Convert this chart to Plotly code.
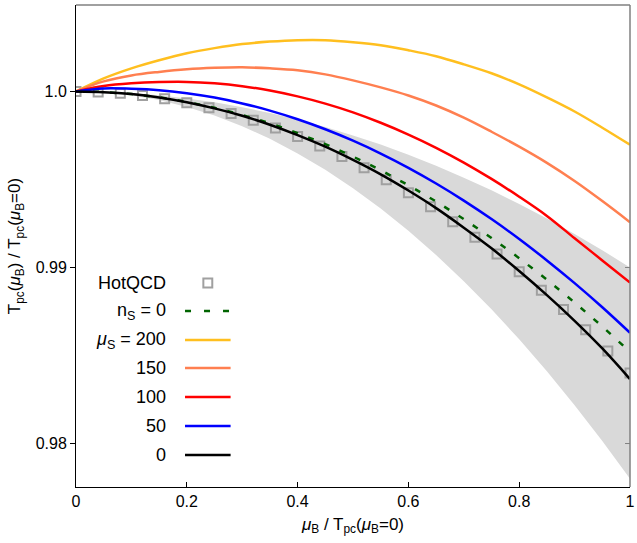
import plotly.graph_objects as go

# ---------------- data ----------------
mu_grid = [0.0, 0.05, 0.1, 0.15, 0.2, 0.25, 0.3, 0.35, 0.4, 0.45, 0.5,
           0.55, 0.6, 0.65, 0.7, 0.75, 0.8, 0.85, 0.9, 0.95, 1.0]

T_muS200 = [1.0, 1.00074, 1.00131, 1.00177, 1.00217, 1.00246, 1.00269, 1.00283, 1.00291, 1.00291, 1.00280,
            1.00263, 1.00234, 1.00200, 1.00154, 1.00103, 1.00040, 0.99966, 0.99886, 0.99794, 0.99697]
T_muS150 = [1.0, 1.00057, 1.00091, 1.00111, 1.00126, 1.00134, 1.00137, 1.00131, 1.00120, 1.00097, 1.00063,
            1.00023, 0.99977, 0.99920, 0.99851, 0.99771, 0.99686, 0.99594, 0.99491, 0.99377, 0.99257]
T_muS100 = [1.0, 1.00031, 1.00046, 1.00053, 1.00054, 1.00046, 1.00030, 1.00005, 0.99972, 0.99931, 0.99881,
            0.99822, 0.99755, 0.99680, 0.99596, 0.99503, 0.99402, 0.99293, 0.99166, 0.99040, 0.98914]
T_muS50 = [1.0, 1.00017, 1.00015, 1.00007, 0.99990, 0.99965, 0.99932, 0.99891, 0.99842, 0.99785, 0.99720,
           0.99647, 0.99566, 0.99477, 0.99380, 0.99275, 0.99162, 0.99040, 0.98911, 0.98774, 0.98629]
T_muS0 = [1.0, 0.99996, 0.99985, 0.99966, 0.99939, 0.99904, 0.99862, 0.99811, 0.99752, 0.99686, 0.99611,
          0.99529, 0.99437, 0.99337, 0.99226, 0.99109, 0.98980, 0.98843, 0.98697, 0.98540, 0.98366]
T_nS0 = [1.0, 0.99997, 0.99985, 0.99967, 0.99941, 0.99907, 0.99867, 0.99819, 0.99763, 0.99701, 0.99630,
         0.99553, 0.99467, 0.99375, 0.99275, 0.99168, 0.99053, 0.98931, 0.98801, 0.98665, 0.98520]

band_upper = [1.0, 0.99998, 0.99990, 0.99978, 0.99960, 0.99938, 0.99910, 0.99878, 0.99840, 0.99798, 0.99750,
              0.99698, 0.99640, 0.99578, 0.99510, 0.99438, 0.99360, 0.99278, 0.99190, 0.99098, 0.99000]
band_lower = [1.0, 0.99995, 0.99978, 0.99951, 0.99912, 0.99863, 0.99802, 0.99731, 0.99648, 0.99555, 0.99450,
              0.99335, 0.99208, 0.99071, 0.98922, 0.98763, 0.98592, 0.98411, 0.98218, 0.98015, 0.97800]

hotqcd_mu = [0.0, 0.04, 0.08, 0.12, 0.16, 0.2, 0.24, 0.28, 0.32, 0.36, 0.4, 0.44, 0.48,
             0.52, 0.56, 0.6, 0.64, 0.68, 0.72, 0.76, 0.8, 0.84, 0.88, 0.92, 0.96, 1.0]
hotqcd_T = [1.0, 0.99997, 0.99990, 0.99977, 0.99959, 0.99936, 0.99908, 0.99875, 0.99836, 0.99793,
            0.99744, 0.99690, 0.99631, 0.99567, 0.99498, 0.99424, 0.99345, 0.99260, 0.99171,
            0.99076, 0.98976, 0.98871, 0.98761, 0.98646, 0.98525, 0.98400]

legend_labels = ["HotQCD", "n<sub>S</sub> = 0", "<i>μ</i><sub>S</sub> = 200", "150", "100", "50", "0"]
x_tick_vals = [0, 0.2, 0.4, 0.6, 0.8, 1.0]
x_tick_text = ["0", "0.2", "0.4", "0.6", "0.8", "1"]
y_tick_vals = [0.98, 0.99, 1.0]
y_tick_text = ["0.98", "0.99", "1.0"]

# ---------------- style ----------------
FONT = "Liberation Sans, Arial, Helvetica, sans-serif"
C_200, C_150, C_100, C_50, C_0 = "#FFBF1F", "#FF7F50", "#FF0000", "#0000FF", "#000000"
C_NS0 = "#006400"
C_HQ = "#A0A0A0"
LW = 2.5

fig = go.Figure()

# uncertainty band
fig.add_trace(go.Scatter(x=mu_grid, y=band_upper, mode="lines", line=dict(width=0, color="#d9d9d9"),
                         showlegend=False, hoverinfo="skip"))
fig.add_trace(go.Scatter(x=mu_grid, y=band_lower, mode="lines", line=dict(width=0, color="#d9d9d9"),
                         fill="tonexty", fillcolor="#d9d9d9", showlegend=False, hoverinfo="skip"))

# HotQCD points
fig.add_trace(go.Scatter(x=hotqcd_mu, y=hotqcd_T, mode="markers",
                         marker=dict(symbol="square-open", size=9, color=C_HQ, line=dict(width=2, color=C_HQ)),
                         showlegend=False))
# n_S = 0
fig.add_trace(go.Scatter(x=mu_grid, y=T_nS0, mode="lines",
                         line=dict(color=C_NS0, width=LW, dash="6px,11px"), showlegend=False))
for ys, c in [(T_muS200, C_200), (T_muS150, C_150), (T_muS100, C_100), (T_muS50, C_50), (T_muS0, C_0)]:
    fig.add_trace(go.Scatter(x=mu_grid, y=ys, mode="lines", line=dict(color=c, width=LW, shape="spline"),
                             showlegend=False))

# ---------------- custom legend (gnuplot style: text then sample) ----------------
W, H = 637, 543
L, R, T, B = 76, 2, 5, 56
pw, ph = W - L - R, H - T - B


def px2paper(px, py):
    return (px - L) / pw, (H - B - py) / ph


row_py = [283, 311, 340, 368, 397, 426, 455]
text_right_px = 169
samp_x0, samp_x1 = 186, 232
annotations = []
shapes = []
sample_styles = [None, (C_NS0, "dash"), (C_200, "solid"), (C_150, "solid"),
                 (C_100, "solid"), (C_50, "solid"), (C_0, "solid")]
for lab, py, st in zip(legend_labels, row_py, sample_styles):
    xt, yt = px2paper(text_right_px, py)
    annotations.append(dict(x=xt, y=yt, xref="paper", yref="paper", text=lab, showarrow=False,
                            xanchor="right", yanchor="middle", font=dict(family=FONT, size=18, color="black")))
    xa, ya = px2paper(samp_x0, py)
    xb, _ = px2paper(samp_x1, py)
    if st is None:
        cx, cy = px2paper(209, py)
        hx, hy = 4.5 / pw, 4.5 / ph
        shapes.append(dict(type="rect", xref="paper", yref="paper", x0=cx - hx, x1=cx + hx,
                           y0=cy - hy, y1=cy + hy, line=dict(color=C_HQ, width=2)))
    else:
        col, dsh = st
        shapes.append(dict(type="line", xref="paper", yref="paper", x0=xa, x1=xb, y0=ya, y1=ya,
                           line=dict(color=col, width=LW, dash=("6px,13px" if dsh == "dash" else "solid"))))

# gray top and right borders
shapes.append(dict(type="line", xref="paper", yref="paper", x0=0, x1=1, y0=1, y1=1,
                   line=dict(color="#808080", width=1.5)))
shapes.append(dict(type="line", xref="paper", yref="paper", x0=1, x1=1, y0=0, y1=1,
                   line=dict(color="#808080", width=1.5)))
# mirrored inside ticks on the right
for tv in [0.98, 0.99]:
    shapes.append(dict(type="line", xref="paper", yref="y", x0=1 - 5 / pw, x1=1, y0=tv, y1=tv,
                       line=dict(color="#808080", width=1)))

fig.update_layout(
    width=W, height=H,
    margin=dict(l=L, r=R, t=T, b=B),
    paper_bgcolor="white", plot_bgcolor="white",
    font=dict(family=FONT, size=16, color="black"),
    showlegend=False,
    annotations=annotations,
    shapes=shapes,
    xaxis=dict(range=[0, 1], tickvals=x_tick_vals, ticktext=x_tick_text, ticks="inside", ticklen=5,
               tickcolor="black", showline=True, linecolor="black", linewidth=1, showgrid=False,
               zeroline=False, mirror=False, tickfont=dict(size=16), ticklabeloverflow="allow",
               title=dict(text="<i>μ</i><sub>B</sub> / T<sub>pc</sub>(<i>μ</i><sub>B</sub>=0)",
                          font=dict(size=17), standoff=8)),
    yaxis=dict(range=[0.97753, 1.00491], tickvals=y_tick_vals, ticktext=y_tick_text, ticks="outside",
               ticklen=5, tickcolor="black", showline=True, linecolor="black", linewidth=1, showgrid=False,
               zeroline=False, mirror=False, tickfont=dict(size=16), ticklabeloverflow="allow",
               title=dict(text="T<sub>pc</sub>(<i>μ</i><sub>B</sub>) / T<sub>pc</sub>(<i>μ</i><sub>B</sub>=0)",
                          font=dict(size=17), standoff=10)),
)

fig.write_html("out.html", config={"displayModeBar": False},
               post_script="document.body.style.margin='0';document.body.style.padding='0';")
